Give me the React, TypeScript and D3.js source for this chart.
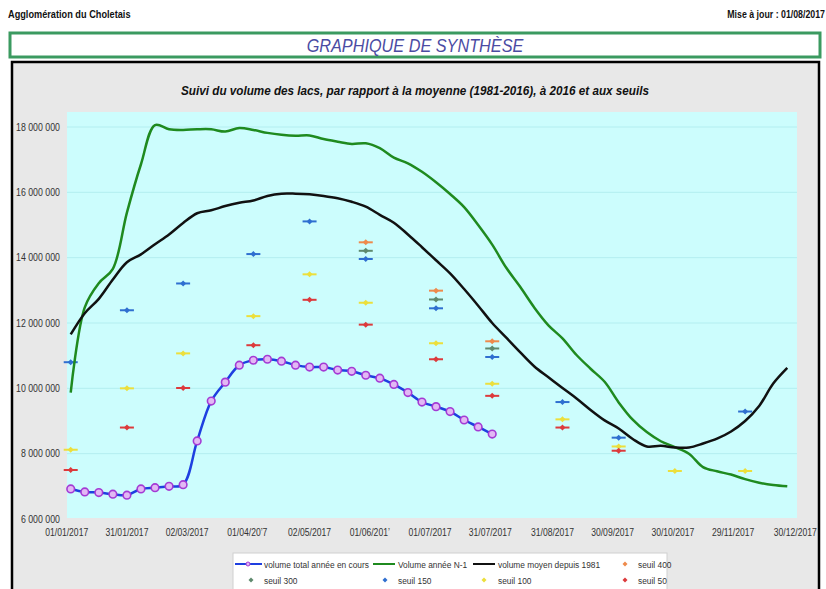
import React from 'react';
import * as d3 from 'd3';

// Weekly series (Tuesday readings), values in m3
const weekStart = '2017-01-03';

const volumeEnCours = [
  6.92, 6.83, 6.81, 6.76, 6.73, 6.92, 6.96, 7.0, 7.05, 8.39, 9.61, 10.19, 10.71, 10.86, 10.89, 10.83,
  10.71, 10.65, 10.65, 10.56, 10.52, 10.4, 10.31, 10.12, 9.87, 9.58, 9.44, 9.29, 9.03, 8.82, 8.6,
].map(v => v * 1e6);

const volumeN1 = [
  9.87, 12.48, 13.22, 13.66, 15.38, 16.86, 18.06, 17.93, 17.91, 17.93, 17.93, 17.86, 17.97, 17.91, 17.82, 17.76,
  17.73, 17.74, 17.63, 17.55, 17.48, 17.5, 17.35, 17.06, 16.89, 16.63, 16.31, 15.95, 15.55, 15.0, 14.4, 13.69,
  13.1, 12.47, 11.93, 11.53, 11.02, 10.6, 10.2, 9.57, 9.04, 8.66, 8.38, 8.2, 8.0, 7.59, 7.46, 7.36,
  7.22, 7.11, 7.04, 7.0,
].map(v => v * 1e6);

const volumeMoyen = [
  11.65, 12.3, 12.74, 13.33, 13.86, 14.1, 14.41, 14.71, 15.06, 15.36, 15.45, 15.58, 15.68, 15.75, 15.89, 15.96,
  15.96, 15.94, 15.89, 15.82, 15.71, 15.56, 15.31, 15.07, 14.71, 14.32, 13.92, 13.52, 13.04, 12.53, 12.0, 11.55,
  11.1, 10.67, 10.34, 10.01, 9.69, 9.34, 9.02, 8.77, 8.45, 8.22, 8.24, 8.19, 8.19, 8.31, 8.46, 8.68,
  9.0, 9.46, 10.15, 10.63,
].map(v => v * 1e6);

// Thresholds (seuils), [date, value in millions]
const seuil400 = [['2017-05-30', 14.47], ['2017-07-04', 12.99], ['2017-08-01', 11.44]];
const seuil300 = [['2017-05-30', 14.21], ['2017-07-04', 12.72], ['2017-08-01', 11.22]];
const seuil150 = [
  ['2017-01-03', 10.8], ['2017-01-31', 12.39], ['2017-02-28', 13.21], ['2017-04-04', 14.11], ['2017-05-02', 15.11],
  ['2017-05-30', 13.96], ['2017-07-04', 12.45], ['2017-08-01', 10.96], ['2017-09-05', 9.58], ['2017-10-03', 8.49],
  ['2017-12-05', 9.29],
];
const seuil100 = [
  ['2017-01-03', 8.12], ['2017-01-31', 10.0], ['2017-02-28', 11.07], ['2017-04-04', 12.21], ['2017-05-02', 13.49],
  ['2017-05-30', 12.62], ['2017-07-04', 11.38], ['2017-08-01', 10.14], ['2017-09-05', 9.05], ['2017-10-03', 8.22],
  ['2017-10-31', 7.47], ['2017-12-05', 7.47],
];
const seuil50 = [
  ['2017-01-03', 7.5], ['2017-01-31', 8.8], ['2017-02-28', 10.01], ['2017-04-04', 11.32], ['2017-05-02', 12.71],
  ['2017-05-30', 11.95], ['2017-07-04', 10.89], ['2017-08-01', 9.77], ['2017-09-05', 8.8], ['2017-10-03', 8.09],
];

const xTickLabels = [
  '01/01/2017', '31/01/2017', '02/03/2017', '01/04/20\u20197', '02/05/2017', '01/06/201\u2019', '01/07/2017',
  '31/07/2017', '31/08/2017', '30/09/2017', '30/10/2017', '29/11/2017', '30/12/2017',
];
const xTickDates = [
  '2017-01-01', '2017-01-31', '2017-03-02', '2017-04-01', '2017-05-02', '2017-06-01', '2017-07-01',
  '2017-07-31', '2017-08-31', '2017-09-30', '2017-10-30', '2017-11-29', '2017-12-30',
];
const yTicks = [6e6, 8e6, 10e6, 12e6, 14e6, 16e6, 18e6];

const W = 826;
const H = 589;
const FONT = "'Liberation Sans', Arial, sans-serif";

const parse = d3.utcParse('%Y-%m-%d');

const plot = { left: 67, right: 797, top: 112, bottom: 518 };

const seuilColors = {
  s400: '#ee8a4c',
  s300: '#5f8a6e',
  s150: '#2f6fd0',
  s100: '#ecdf3c',
  s50: '#dc3a3c',
};

// condensed text (no narrow font installed, so squeeze horizontally)
function T({ x, y, sx = 0.88, anchor = 'start', children, ...rest }) {
  return (
    <text transform={`translate(${x},${y}) scale(${sx},1)`} textAnchor={anchor} {...rest}>{children}</text>
  );
}

function Dash({ x, y, color }) {
  return (
    <g transform={`translate(${x},${y})`}>
      <line x1={-7} x2={7} y1={0} y2={0} stroke={color} strokeWidth={2} />
      <path d="M0,-3L3,0L0,3L-3,0Z" fill={color} />
    </g>
  );
}

function Diamond({ x, y, color }) {
  return <path d={`M${x},${y - 2.5}L${x + 2.5},${y}L${x},${y + 2.5}L${x - 2.5},${y}Z`} fill={color} />;
}

export default function App() {
  const x = d3.scaleUtc()
    .domain([parse('2017-01-01'), parse('2017-12-30')])
    .range([66.7, 795.3]);
  const y = d3.scaleLinear().domain([6e6, 18e6]).range([519, 127]);

  const start = parse(weekStart);
  const week = (i) => d3.utcDay.offset(start, i * 7);

  const line = d3.line()
    .x((d, i) => x(week(i)))
    .y(d => y(d))
    .curve(d3.curveCatmullRom.alpha(0.5));

  const fmt = (v) => d3.format(',')(v).replace(/,/g, ' ');

  const seuils = [
    { key: 's400', data: seuil400 },
    { key: 's300', data: seuil300 },
    { key: 's150', data: seuil150 },
    { key: 's100', data: seuil100 },
    { key: 's50', data: seuil50 },
  ];

  return (
    <div style={{ position: 'absolute', left: 0, top: 0 }}>
      <svg width={W} height={H} style={{ display: 'block', background: '#fff' }} fontFamily={FONT}>
        {/* page header */}
        <T x={8} y={18} sx={0.92} fontSize={10} fontWeight="bold" fill="#111">Agglomération du Choletais</T>
        <T x={825} y={18} sx={0.88} anchor="end" fontSize={10} fontWeight="bold" fill="#111">Mise à jour : 01/08/2017</T>

        <rect x={10} y={33} width={810} height={24} fill="#fff" stroke="#3b9a60" strokeWidth={3} />
        <T x={415} y={52} sx={0.93} anchor="middle" fontSize={17.5} fontStyle="italic" fill="#4b4ba3">GRAPHIQUE DE SYNTHÈSE</T>

        {/* chart frame */}
        <rect x={12} y={62} width={807} height={540} fill="#e8e8e8" stroke="#000" strokeWidth={2.5} />
        <T x={415} y={95} sx={0.9} anchor="middle" fontSize={13} fontWeight="bold" fontStyle="italic" fill="#111">
          Suivi du volume des lacs, par rapport à la moyenne (1981-2016), à 2016 et aux seuils
        </T>

        <rect x={plot.left} y={plot.top} width={plot.right - plot.left} height={plot.bottom - plot.top} fill="#ccfdfd" />
        {yTicks.slice(1).map(t => (
          <line key={t} x1={plot.left} x2={plot.right} y1={y(t)} y2={y(t)} stroke="#b3eef0" strokeWidth={1} />
        ))}

        {yTicks.map(t => (
          <T key={t} x={60} y={y(t) + 3.5} sx={0.88} anchor="end" fontSize={10} fill="#333">{fmt(t)}</T>
        ))}
        {xTickDates.map((d, i) => (
          <T key={d} x={x(parse(d))} y={536} sx={0.86} anchor="middle" fontSize={10} fill="#333">{xTickLabels[i]}</T>
        ))}

        {/* thresholds */}
        {seuils.map(s => s.data.map(([d, v]) => (
          <Dash key={s.key + d} x={x(parse(d))} y={y(v * 1e6)} color={seuilColors[s.key]} />
        )))}

        {/* series */}
        <path d={line(volumeN1)} fill="none" stroke="#1f8a1f" strokeWidth={2.5} />
        <path d={line(volumeMoyen)} fill="none" stroke="#111" strokeWidth={2.5} />
        <path d={line(volumeEnCours)} fill="none" stroke="#1e3fe0" strokeWidth={2.5} />
        {volumeEnCours.map((v, i) => (
          <circle key={i} cx={x(week(i))} cy={y(v)} r={3.8} fill="#e2b8f4" stroke="#a43ad4" strokeWidth={1.6} />
        ))}

        {/* legend */}
        <rect x={233} y={553} width={434} height={45} fill="#fff" stroke="#d0d0d0" strokeWidth={1} />
        <g fontSize={9.5} fill="#333">
          <line x1={235} x2={262} y1={564} y2={564} stroke="#1e3fe0" strokeWidth={2} />
          <circle cx={248} cy={564} r={2} fill="#e2b8f4" stroke="#a43ad4" strokeWidth={1} />
          <T x={264} y={567.5}>volume total année en cours</T>
          <line x1={373} x2={395} y1={564} y2={564} stroke="#1f8a1f" strokeWidth={2} />
          <T x={398} y={567.5}>Volume année N-1</T>
          <line x1={473} x2={495} y1={564} y2={564} stroke="#111" strokeWidth={2} />
          <T x={498} y={567.5}>volume moyen depuis 1981</T>
          <Diamond x={625} y={564} color={seuilColors.s400} />
          <T x={638} y={567.5}>seuil 400</T>

          <Diamond x={251} y={580} color={seuilColors.s300} />
          <T x={264} y={583.5}>seuil 300</T>
          <Diamond x={385} y={580} color={seuilColors.s150} />
          <T x={398} y={583.5}>seuil 150</T>
          <Diamond x={484} y={580} color={seuilColors.s100} />
          <T x={498} y={583.5}>seuil 100</T>
          <Diamond x={625} y={580} color={seuilColors.s50} />
          <T x={638} y={583.5}>seuil 50</T>
        </g>
      </svg>
    </div>
  );
}
